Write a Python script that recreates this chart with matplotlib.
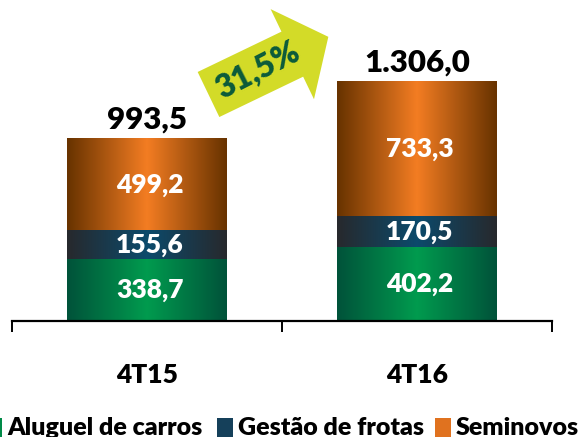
import numpy as np
import matplotlib
matplotlib.use("Agg")
import matplotlib.pyplot as plt
from matplotlib.colors import LinearSegmentedColormap
from matplotlib.patches import Polygon, Rectangle

plt.rcParams['font.family'] = ['Lato', 'DejaVu Sans']
WT = 'heavy'

periods = ['4T15', '4T16']
aluguel = [338.7, 402.2]
gestao = [155.6, 170.5]
seminovos = [499.2, 733.3]
totals = ['993,5', '1.306,0']
growth = '31,5%'
series_names = ['Aluguel de carros', 'Gestão de frotas', 'Seminovos']

def fmt(v):
    return ('%.1f' % v).replace('.', ',')

# edge / center colours of each gradient
grads = [('#00533a', '#009a4e'), ('#27292d', '#0c4a6b'), ('#683300', '#f27c22')]

W, H = 579, 437
fig = plt.figure(figsize=(W / 100, H / 100), dpi=100)
ax = fig.add_axes([12 / W, 116 / H, 540 / W, 321 / H])

bw = 0.59
x = np.arange(len(periods))
grad = np.concatenate([np.linspace(0, 1, 50), np.linspace(1, 0, 50)])[None, :]
bottoms = np.zeros(len(periods))
for vals, (c0, c1) in zip([aluguel, gestao, seminovos], grads):
    cmap = LinearSegmentedColormap.from_list('g', [c0, c1])
    for i, v in enumerate(vals):
        ax.imshow(grad, cmap=cmap, aspect='auto', interpolation='bilinear',
                  extent=[x[i] - bw / 2, x[i] + bw / 2, bottoms[i], bottoms[i] + v], zorder=2)
        ax.text(x[i] + 0.01, bottoms[i] + v / 2, fmt(v), ha='center', va='center',
                color='white', fontsize=19, fontweight=WT, zorder=3)
    bottoms = bottoms + np.array(vals)

for i, t in enumerate(totals):
    ax.text(x[i], bottoms[i] + 28, t, ha='center', va='bottom', fontsize=22.5,
            fontweight=WT, color='black')

ax.set_xlim(-0.5, 1.5)
ax.set_ylim(0, 1752)
for s in ['top', 'right', 'left']:
    ax.spines[s].set_visible(False)
ax.spines['bottom'].set_linewidth(1.6)
ax.set_yticks([])
ax.set_xticks(x)
ax.set_xticklabels(periods, fontsize=19, fontweight=WT)
ax.tick_params(axis='x', which='major', length=0, pad=30)
ax.set_xticks([-0.5, 0.5, 1.5], minor=True)
ax.tick_params(axis='x', which='minor', length=8, width=1.4, direction='out')

# growth arrow
th = np.deg2rad(25.7)
u = np.array([np.cos(th), np.sin(th)])
n = np.array([-np.sin(th), np.cos(th)])
c = np.array([208.5, H - 94.5])
local = [(0, -25), (93, -25), (93, -50), (133, 0), (93, 50), (93, 25), (0, 25)]
pts = [(c + a * u + p * n) / np.array([W, H]) for a, p in local]
fig.patches.append(Polygon(pts, closed=True, transform=fig.transFigure,
                           facecolor='#d3db28', edgecolor='none'))
tc = (c + 55 * u) / np.array([W, H])
fig.text(tc[0], tc[1], growth, rotation=27, ha='center', va='center',
         rotation_mode='anchor', fontsize=23, fontweight=WT, color='#0b5a3b')

# legend (cut at the bottom edge like the original)
leg_x = [7, 238, 456]
leg_cols = ['#008a48', '#15405a', '#e0721f']
for lx, lc, name in zip(leg_x, leg_cols, series_names):
    fig.patches.append(Rectangle(((lx - 21) / W, 0), 16 / W, 19 / H,
                                 transform=fig.transFigure, facecolor=lc, edgecolor='none'))
    fig.text(lx / W, 2 / H, name, ha='left', va='baseline', fontsize=18,
             fontweight=WT, color='black')

fig.savefig('out.png', dpi=100)
